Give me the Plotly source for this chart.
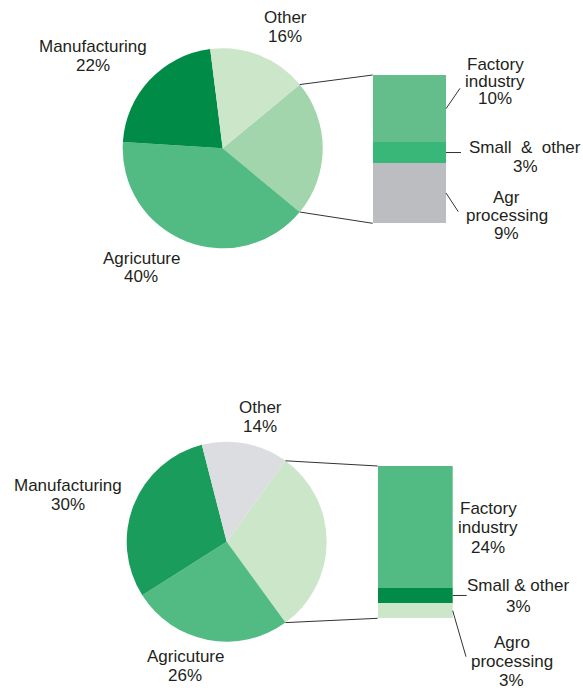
import math
import plotly.graph_objects as go

W, H = 583, 688
FONT = 'Liberation Sans, Arial, sans-serif'
TXT = '#231f20'
LINE = '#333333'

# Top chart
pie1_labels = ['Industry', 'Agricuture', 'Manufacturing', 'Other']
pie1_values = [22, 40, 22, 16]
pie1_colors = ['#a2d5ab', '#52bb83', '#008b46', '#cce6ca']
bar1_labels = ['Agr processing', 'Small & other', 'Factory industry']
bar1_values = [9, 3, 10]
bar1_colors = ['#bcbdc1', '#38b778', '#63be8b']

# Bottom chart
pie2_labels = ['Industry', 'Agricuture', 'Manufacturing', 'Other']
pie2_values = [30, 26, 30, 14]
pie2_colors = ['#cce6ca', '#52bb83', '#1a9c5c', '#dcdde0']
bar2_labels = ['Agro processing', 'Small & other', 'Factory industry']
bar2_values = [3, 3, 24]
bar2_colors = ['#cce6ca', '#008b46', '#52bb83']


def px_box(x0, x1, y0, y1):
    """pixel box (y down) -> paper domains"""
    return [x0 / W, x1 / W], [1 - y1 / H, 1 - y0 / H]


def pie_edge(dom_x, dom_y, rotation, frac):
    cx = (dom_x[0] + dom_x[1]) / 2 * W
    cy = (1 - (dom_y[0] + dom_y[1]) / 2) * H
    r = min((dom_x[1] - dom_x[0]) * W, (dom_y[1] - dom_y[0]) * H) / 2
    pts = []
    for a in (rotation, rotation + frac * 360):
        t = math.radians(a)
        pts.append((cx + r * math.sin(t), cy - r * math.cos(t)))
    return pts


def bar_y(dom_y, total, v):
    return (1 - (dom_y[0] + (dom_y[1] - dom_y[0]) * v / total)) * H


fig = go.Figure()
shapes = []
annotations = []


def line(p0, p1):
    shapes.append(dict(type='line', xref='paper', yref='paper',
                       x0=p0[0] / W, y0=1 - p0[1] / H, x1=p1[0] / W, y1=1 - p1[1] / H,
                       line=dict(color=LINE, width=1)))


def label(lines, x, y, step):
    for i, s in enumerate(lines):
        annotations.append(dict(text=s, x=x / W, y=1 - (y + i * step) / H,
                                xref='paper', yref='paper', showarrow=False,
                                xanchor='center', yanchor='middle',
                                font=dict(family=FONT, size=17, color=TXT)))


def add_chart(n, pie_values, pie_colors, pie_box, bar_values, bar_colors, bar_box):
    px, py = px_box(*pie_box)
    total = sum(bar_values)
    rot = 90 - pie_values[0] / sum(pie_values) * 180
    fig.add_trace(go.Pie(values=pie_values, marker=dict(colors=pie_colors, line=dict(width=0)),
                         sort=False, direction='clockwise', rotation=rot,
                         textinfo='none', hoverinfo='none', showlegend=False,
                         domain=dict(x=px, y=py)))
    bx, by = px_box(*bar_box)
    xa = 'x' if n == 1 else 'x%d' % n
    ya = 'y' if n == 1 else 'y%d' % n
    for v, c in zip(bar_values, bar_colors):
        fig.add_trace(go.Bar(x=[0], y=[v], width=1, marker=dict(color=c, line=dict(width=0)),
                             xaxis=xa, yaxis=ya, showlegend=False, hoverinfo='none'))
    key = '' if n == 1 else str(n)
    fig.layout['xaxis' + key] = dict(domain=bx, range=[-0.5, 0.5], visible=False,
                                     fixedrange=True, anchor=ya)
    fig.layout['yaxis' + key] = dict(domain=by, range=[0, total], visible=False,
                                     fixedrange=True, anchor=xa)
    # connectors from the exploded slice to the bar
    p_top, p_bot = pie_edge(px, py, rot, pie_values[0] / sum(pie_values))
    line(p_top, (bx[0] * W, bar_y(by, total, total)))
    line(p_bot, (bx[0] * W, bar_y(by, total, 0)))
    # segment middles on the right edge of the bar
    mids = []
    acc = 0
    for v in bar_values:
        mids.append((bx[1] * W, bar_y(by, total, acc + v / 2)))
        acc += v
    return mids


# top
m1 = add_chart(1, pie1_values, pie1_colors, (122.7, 322.7, 48.3, 248.3),
               bar1_values, bar1_colors, (372.7, 446, 75, 223.3))
label(['Manufacturing', '%d%%' % pie1_values[2]], 93, 46.7, 19.3)
label(['Other', '%d%%' % pie1_values[3]], 285, 17.5, 19.5)
label(['Agricuture', '%d%%' % pie1_values[1]], 141, 258.3, 18.7)
label(['Factory', 'industry', '%d%%' % bar1_values[2]], 495, 64.2, 17.2)
label(['Small\u00a0\u00a0&\u00a0\u00a0other', '%d%%' % bar1_values[1]], 525, 147.8, 18.9)
label(['Agr', 'processing', '%d%%' % bar1_values[0]], 507, 197.5, 17.9)
line(m1[2], (460, 88.3))
line(m1[1], (461, m1[1][1]))
line(m1[0], (458.3, 211.7))

# bottom
m2 = add_chart(2, pie2_values, pie2_colors, (126.7, 326.7, 441.7, 641.7),
               bar2_values, bar2_colors, (377.7, 452.7, 466, 618.3))
label(['Other', '%d%%' % pie2_values[3]], 260, 407.5, 19.3)
label(['Manufacturing', '%d%%' % pie2_values[2]], 67.6, 485, 19.5)
label(['Agricuture', '%d%%' % pie2_values[1]], 185, 656.7, 18.8)
label(['Factory', 'industry', '%d%%' % bar2_values[2]], 488, 508.3, 19.6)
label(['Small & other', '%d%%' % bar2_values[1]], 518, 585.8, 20.9)
label(['Agro', 'processing', '%d%%' % bar2_values[0]], 511.7, 642.5, 19.2)
line(m2[1], (466.7, m2[1][1]))
line(m2[0], (466, 656.7))

fig.update_layout(width=W, height=H, margin=dict(l=0, r=0, t=0, b=0),
                  paper_bgcolor='white', plot_bgcolor='white',
                  barmode='stack', shapes=shapes, annotations=annotations)

# drop the browser's default 8px body margin so the figure sits at (0, 0)
fig.write_html("out.html", config={'displayModeBar': False},
               post_script="document.body.style.margin='0';document.body.style.overflow='hidden';")
